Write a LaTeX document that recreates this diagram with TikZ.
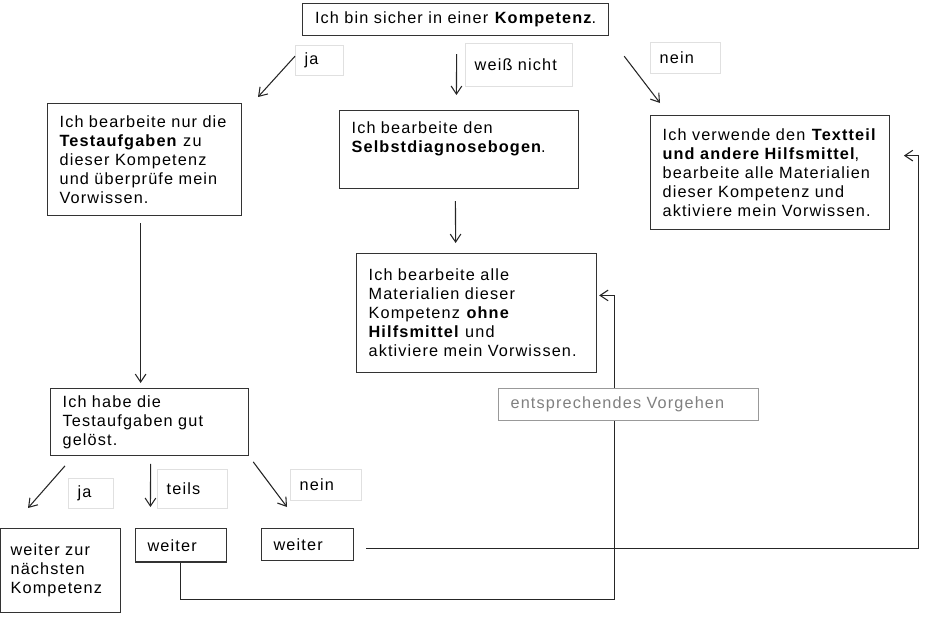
\documentclass[tikz,border=0pt]{standalone}
\usepackage{fontspec}
\setmainfont{Liberation Sans}[LetterSpace=7]
\usetikzlibrary{arrows.meta}

\begin{document}
\begin{tikzpicture}[x=0.75pt, y=-0.75pt,
box/.style={draw=black!80, line width=0.9pt, anchor=north west, align=left, inner xsep=9pt, inner ysep=2pt, font=\flowfont},
tag/.style={draw=black!12, line width=0.6pt, anchor=north west, align=left, inner xsep=7pt, inner ysep=2pt, font=\flowfont},
hint/.style={box, draw=black!40, fill=white, text=black!50},
flow/.style={-{Straight Barb[length=6pt,width=8pt]}, line width=0.8pt, black!85}]
\def\flowfont{\fontsize{12.2}{14.25}\selectfont}
\useasboundingbox (0,0) rectangle (928,618);
% question
\node[box, align=center, text width=211.5pt, minimum height=24pt] (start) at (302,3) {Ich bin sicher in einer \textbf{Kompetenz}.};
\node[tag, text width=22pt, minimum height=22.5pt] (ja) at (295,45) {ja};
\node[tag, text width=66pt, minimum height=32pt] (weiss) at (465,43) {weiß nicht};
\node[tag, text width=38.5pt, minimum height=23pt] (nein) at (650,42) {nein};
% three ways
\node[box, text width=127.5pt, minimum height=84pt] (test) at (47,103) {Ich bearbeite nur die\\ \textbf{Testaufgaben} zu\\ dieser Kompetenz\\ und überprüfe mein\\ Vorwissen.};
\node[box, text width=161pt, minimum height=58.5pt] (diag) at (339,110) {Ich bearbeite den\\ \textbf{Selbstdiagnosebogen}.\\ \strut};
\node[box, text width=161pt, minimum height=85.5pt] (help) at (650,115) {Ich verwende den \textbf{Textteil}\\ \textbf{und andere Hilfsmittel},\\ bearbeite alle Materialien\\ dieser Kompetenz und\\ aktiviere mein Vorwissen.};
\node[box, text width=162pt, minimum height=89pt] (ohne) at (356,253) {Ich bearbeite alle\\ Materialien dieser\\ Kompetenz \textbf{ohne}\\ \textbf{Hilfsmittel} und\\ aktiviere mein Vorwissen.};
% check
\node[box, text width=130.5pt, minimum height=50pt] (check) at (50,388) {Ich habe die\\ Testaufgaben gut\\ gelöst.};
\node[tag, text width=20pt, minimum height=22.5pt] (ja2) at (68,478) {ja};
\node[tag, text width=38.5pt, minimum height=29pt] (teils) at (157,469) {teils};
\node[tag, text width=39pt, minimum height=23pt] (nein2) at (290,469) {nein};
\node[box, inner xsep=7.5pt, text width=75pt, minimum height=63pt] (next) at (0,528) {weiter zur\\ nächsten\\ Kompetenz};
\node[box, text width=50pt, minimum height=25pt] (weiter1) at (135,528) {weiter};
\node[box, text width=51pt, minimum height=24pt] (weiter2) at (261,528) {weiter};
% arrows
\draw[flow] ([shift={(-7,20)}]start.south west) -- ([shift={(211,-6)}]test.north west);
\draw[flow] ([shift={(1,18)}]start.south) -- ([shift={(-2.5,-15)}]diag.north);
\draw[flow] ([shift={(15,20)}]start.south east) -- ([shift={(10,-12)}]help.north west);
\draw[flow] ([shift={(-3.5,12)}]diag.south) -- ([shift={(-21,-10)}]ohne.north);
\draw[flow] ([shift={(-4,7)}]test.south) -- ([shift={(-9,-5)}]check.north);
\draw[flow] ([shift={(15,10)}]check.south west) -- ([shift={(28,-20)}]next.north west);
\draw[flow] ([shift={(1,8)}]check.south) -- ([shift={(-30.5,-21)}]weiter1.north);
\draw[flow] ([shift={(4,6)}]check.south east) -- ([shift={(26,-21)}]weiter2.north west);
\draw[flow] (weiter1.south) -- ++(0,37) -| ([shift={(17,-17.5)}]ohne.east) -- ([shift={(2,-17.5)}]ohne.east);
\draw[flow] ([shift={(12,4)}]weiter2.east) -| ([shift={(29,-17)}]help.east) -- ([shift={(14,-17)}]help.east);
% note
\node[hint, text width=177pt, minimum height=24pt] (vorgehen) at (498,388) {entsprechendes Vorgehen};
\end{tikzpicture}
\end{document}
